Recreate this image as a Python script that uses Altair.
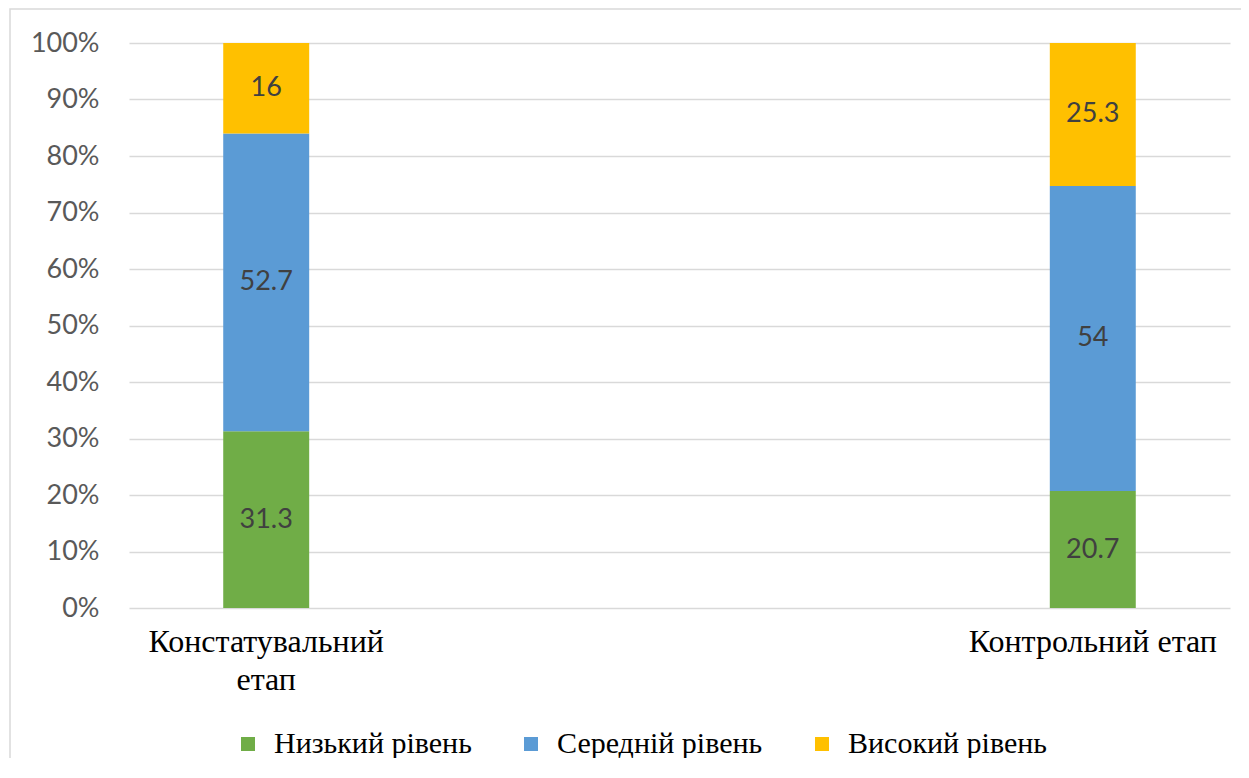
import altair as alt
import pandas as pd

stages = ["Констатувальний етап", "Контрольний етап"]
levels = ["Низький рівень", "Середній рівень", "Високий рівень"]
low_vals = [31.3, 20.7]
mid_vals = [52.7, 54]
high_vals = [16, 25.3]
colors = ["#70AD47", "#5B9BD5", "#FFC000"]
y_ticks = [0, 0.1, 0.2, 0.3, 0.4, 0.5, 0.6, 0.7, 0.8, 0.9, 1.0]

rows = []
for i, s in enumerate(stages):
    for k, (lvl, vals) in enumerate(zip(levels, [low_vals, mid_vals, high_vals])):
        rows.append({"stage": s, "level": lvl, "value": vals[i], "order": k})
df = pd.DataFrame(rows)

base = alt.Chart(df).transform_stack(
    stack="value",
    groupby=["stage"],
    sort=[alt.SortField("order", order="ascending")],
    as_=["y0", "y1"],
    offset="normalize",
).transform_calculate(mid="(datum.y0 + datum.y1) / 2")

x_enc = alt.X(
    "stage:N",
    sort=stages,
    scale=alt.Scale(paddingInner=0.896, paddingOuter=0.114),
    axis=alt.Axis(
        title=None,
        labelAngle=0,
        labelFont="Liberation Serif",
        labelFontSize=32,
        labelColor="black",
        labelPadding=18,
        labelBaseline="top",
        labelLineHeight=38,
        labelLimit=0,
        domain=False,
        ticks=False,
        labelExpr="datum.label == 'Констатувальний етап' ? ['Констатувальний', 'етап'] : datum.label",
    ),
)

bars = base.mark_bar().encode(
    x=x_enc,
    y=alt.Y(
        "y0:Q",
        scale=alt.Scale(domain=[0, 1]),
        axis=alt.Axis(
            title=None,
            format=".0%",
            values=y_ticks,
            labelFont="Lato",
            labelFontSize=27,
            labelColor="#595959",
            labelPadding=30,
            domain=False,
            ticks=False,
            gridColor="#D9D9D9",
            gridWidth=1.5,
        ),
    ),
    y2="y1:Q",
    color=alt.Color(
        "level:N",
        scale=alt.Scale(domain=levels, range=colors),
        sort=levels,
        legend=alt.Legend(
            title=None,
            orient="none",
            legendX=104,
            legendY=686,
            direction="horizontal",
            symbolType="square",
            symbolSize=196,
            symbolStrokeWidth=0,
            labelFont="Times New Roman",
            labelFontSize=30,
            labelColor="black",
            labelOffset=11,
            columnPadding=44,
            labelLimit=0,
        ),
    ),
)

labels = base.mark_text(
    font="Lato", fontSize=27, color="#404040", baseline="middle", align="center"
).encode(
    x=alt.X("stage:N", sort=stages),
    y=alt.Y("mid:Q"),
    text=alt.Text("value:Q", format=".1~f"),
)

frame = alt.Chart(pd.DataFrame({"a": [0]})).mark_rect(
    fillOpacity=0, stroke="#D9D9D9", strokeWidth=1.5
).encode(
    x=alt.value(-119), x2=alt.value(1130), y=alt.value(-34), y2=alt.value(800)
)

chart = (
    alt.layer(frame, bars, labels)
    .properties(
        width=1101,
        height=565,
        autosize=alt.AutoSizeParams(type="none"),
        padding={"left": 121, "top": 35, "right": 11, "bottom": 150},
    )
    .configure_view(stroke=None)
    .configure_legend(labelFont="Times New Roman", labelFontSize=30, labelColor="black")
)

chart.save("out.html", embed_options={"renderer": "svg", "actions": False})
